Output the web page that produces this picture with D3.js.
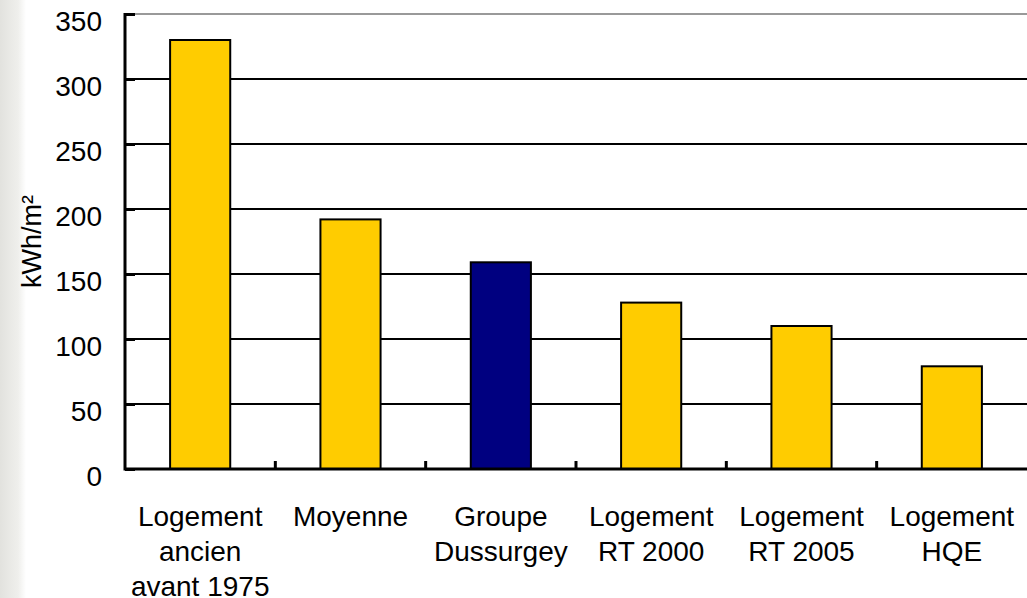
<!DOCTYPE html>
<html>
<head>
<meta charset="utf-8">
<script src="https://cdn.jsdelivr.net/npm/d3@7"></script>
<style>
  body { margin: 0; background: #fff; }
  svg text { font-family: Arial, "Liberation Sans", sans-serif; }
</style>
</head>
<body>
<svg width="1027" height="598"></svg>
<script>
// data
const categories = [
    ["Logement", "ancien", "avant 1975"],
    ["Moyenne"],
    ["Groupe", "Dussurgey"],
    ["Logement", "RT 2000"],
    ["Logement", "RT 2005"],
    ["Logement", "HQE"]
];
const values = [330, 192, 159, 128, 110, 79];
const highlight = [false, false, true, false, false, false];
const yTicks = [0, 50, 100, 150, 200, 250, 300, 350];

const svg = d3.select("svg");
const width = +svg.attr("width");
const height = +svg.attr("height");

const margin = { top: 14, right: 0, bottom: 129, left: 125 };
const innerWidth = width - margin.left - margin.right;
const innerHeight = height - margin.top - margin.bottom;

// faint grey texture on the left edge
const grad = svg.append("defs").append("linearGradient")
    .attr("id", "edge").attr("x1", 0).attr("x2", 1);
grad.append("stop").attr("offset", 0).attr("stop-color", "#e2e2de");
grad.append("stop").attr("offset", 0.7).attr("stop-color", "#efefec");
grad.append("stop").attr("offset", 1).attr("stop-color", "#ffffff");
svg.append("rect")
    .attr("x", 0).attr("y", 0)
    .attr("width", 26).attr("height", height)
    .attr("fill", "url(#edge)");

const xScale = d3.scaleBand()
    .domain(d3.range(categories.length))
    .range([0, innerWidth])
    .paddingInner(0.6)
    .paddingOuter(0.3);

const band = innerWidth / categories.length;

const yScale = d3.scaleLinear()
    .domain([0, 350])
    .range([innerHeight, 0]);

const g = svg.append("g")
    .attr("transform", `translate(${margin.left}, ${margin.top})`);

// grid lines
g.selectAll(".grid").data(yTicks.filter(d => d > 0 && d < 350))
    .enter().append("line")
        .attr("x1", 0).attr("x2", innerWidth)
        .attr("y1", d => yScale(d)).attr("y2", d => yScale(d))
        .attr("stroke", "#000").attr("stroke-width", 2);

// top border (grey)
g.append("line")
    .attr("x1", 0).attr("x2", innerWidth)
    .attr("y1", yScale(350)).attr("y2", yScale(350))
    .attr("stroke", "#999").attr("stroke-width", 2);

// y axis
const yAxis = g.append("g")
    .call(d3.axisLeft(yScale).tickValues(yTicks).tickSize(-10).tickPadding(23));
yAxis.select(".domain").remove();
yAxis.selectAll(".tick line").attr("stroke", "#000").attr("stroke-width", 3);
yAxis.selectAll("text")
    .attr("font-size", 28).attr("fill", "#000")
    .attr("dy", "0.6em");
g.append("line")
    .attr("x1", 0).attr("x2", 0)
    .attr("y1", yScale(350) - 1).attr("y2", yScale(0) + 1.5)
    .attr("stroke", "#000").attr("stroke-width", 3);

// bars
g.selectAll(".bar").data(values)
    .enter().append("rect")
        .attr("x", (d, i) => xScale(i))
        .attr("y", d => yScale(d))
        .attr("width", xScale.bandwidth())
        .attr("height", d => innerHeight - yScale(d))
        .attr("fill", (d, i) => highlight[i] ? "#000080" : "#ffcc00")
        .attr("stroke", "#000").attr("stroke-width", 2);

// x axis with ticks between categories
g.append("line")
    .attr("x1", 0).attr("x2", innerWidth)
    .attr("y1", innerHeight).attr("y2", innerHeight)
    .attr("stroke", "#000").attr("stroke-width", 3);
g.selectAll(".xtick").data(d3.range(1, categories.length))
    .enter().append("line")
        .attr("x1", d => d * band).attr("x2", d => d * band)
        .attr("y1", innerHeight).attr("y2", innerHeight - 8)
        .attr("stroke", "#000").attr("stroke-width", 3);

// category labels
const labels = g.selectAll(".cat").data(categories)
    .enter().append("text")
        .attr("text-anchor", "middle")
        .attr("font-size", 28)
        .attr("fill", "#000")
        .attr("transform", (d, i) => `translate(${xScale(i) + xScale.bandwidth() / 2}, ${innerHeight + 57})`);
labels.selectAll("tspan").data(d => d)
    .enter().append("tspan")
        .attr("x", 0)
        .attr("y", (d, i) => i * 35)
        .text(d => d);

// y label
svg.append("text")
    .attr("transform", `translate(41, ${margin.top + innerHeight / 2}) rotate(-90)`)
    .attr("text-anchor", "middle")
    .attr("font-size", 27)
    .attr("fill", "#000")
    .text("kWh/m²");
</script>
</body>
</html>
